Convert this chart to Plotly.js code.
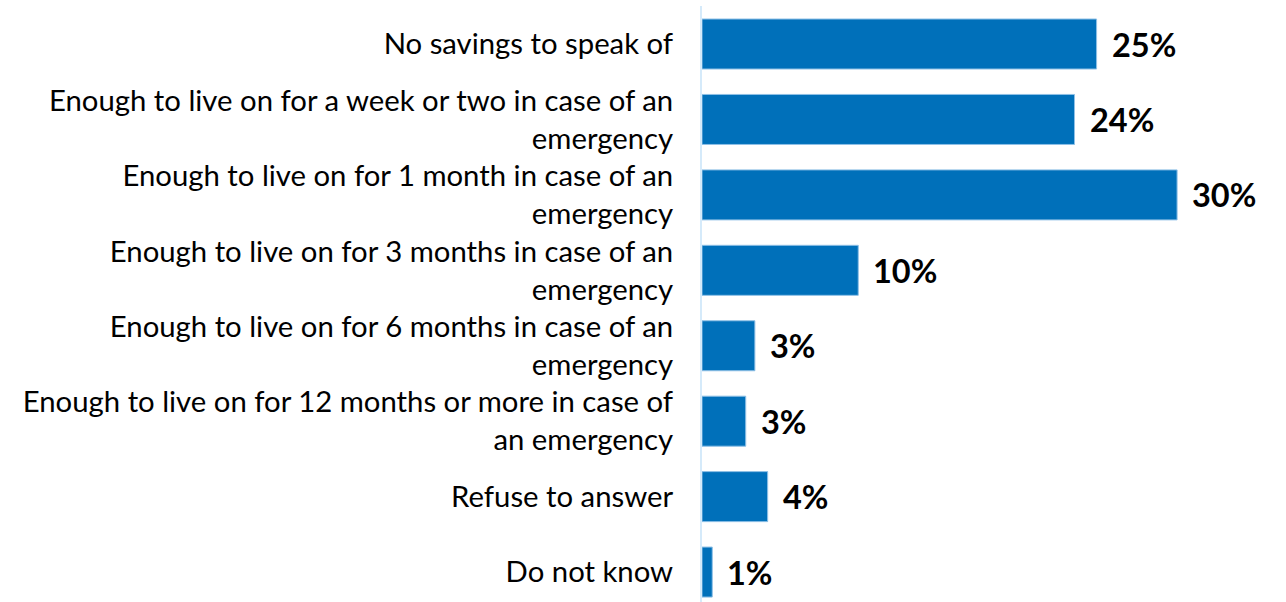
<!DOCTYPE html>
<html><head><meta charset="utf-8">
<script src="https://cdn.plot.ly/plotly-3.0.1.min.js"></script>
<style>html,body{margin:0;padding:0;background:#fff}#chart{width:1286px;height:602px}</style>
</head><body><div id="chart"></div>
<script>
const categories = [
  "No savings to speak of",
  "Enough to live on for a week or two in case of an<br>emergency",
  "Enough to live on for 1 month in case of an<br>emergency",
  "Enough to live on for 3 months in case of an<br>emergency",
  "Enough to live on for 6 months in case of an<br>emergency",
  "Enough to live on for 12 months or more in case of<br>an emergency",
  "Refuse to answer",
  "Do not know"
];
const values = [25.0, 23.6, 30.1, 9.9, 3.35, 2.77, 4.16, 0.65];
const valueLabels = ["25%", "24%", "30%", "10%", "3%", "3%", "4%", "1%"];

const annotations = categories.map((c, i) => ({
  x: values[i], y: c, xref: 'x', yref: 'y',
  text: '<b>' + valueLabels[i] + '</b>', showarrow: false,
  xanchor: 'left', xshift: 13,
  font: {family: 'Lato', size: 32.5, color: '#000'}
}));

Plotly.newPlot('chart', [{
  type: 'bar', orientation: 'h',
  x: values, y: categories,
  marker: {color: '#0070BA', line: {color: '#8fc0e6', width: 1}},
  width: 0.663, hoverinfo: 'none'
}], {
  width: 1286, height: 602,
  margin: {l: 702, r: 0, t: 6, b: 0},
  paper_bgcolor: '#fff', plot_bgcolor: '#fff',
  showlegend: false,
  xaxis: {range: [0, 37], visible: false, showgrid: false, zeroline: false},
  yaxis: {
    type: 'category', range: [7.397, -0.504], showgrid: false, zeroline: false,
    showline: true, linecolor: '#d5eafa', linewidth: 2,
    ticks: '', ticklabelstandoff: 21,
    tickfont: {family: 'Lato', size: 29.3, color: '#000'}
  },
  annotations: annotations
}, {staticPlot: true});
</script></body></html>
